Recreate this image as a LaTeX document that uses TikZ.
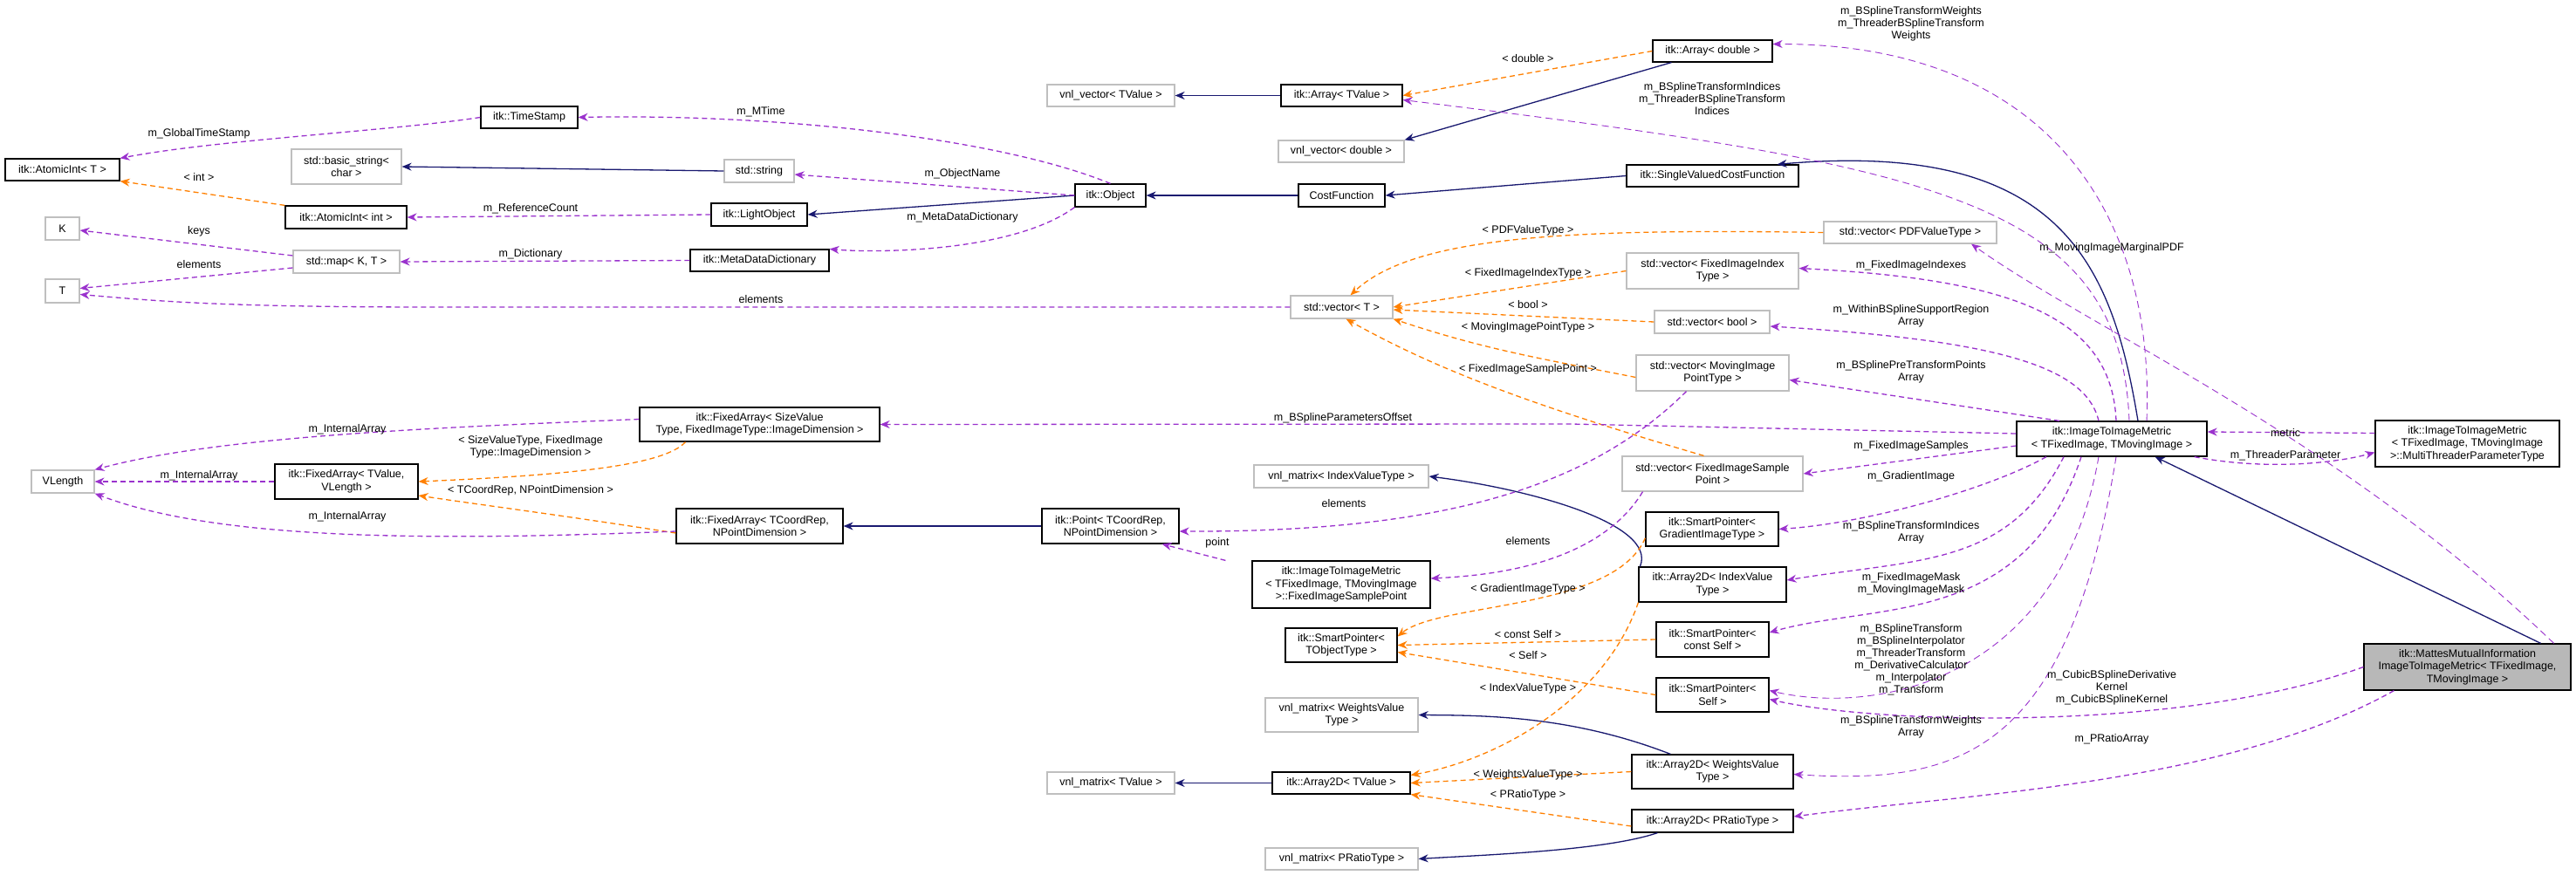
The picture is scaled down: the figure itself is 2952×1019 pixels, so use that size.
\documentclass[tikz,border=0pt]{standalone}
\usepackage{fontspec}
\setmainfont{Liberation Sans}
\usetikzlibrary{arrows.meta}
\begin{document}
\begin{tikzpicture}[x=1pt,y=-1pt,font=\fontsize{12.5}{14.5}\selectfont,
  bx/.style={draw=black,line width=1.2pt,fill=white,inner sep=1pt,align=center},
  gb/.style={draw=black!25,line width=1.2pt,fill=white,inner sep=1pt,align=center},
  pu/.style={draw={rgb,255:red,154;green,50;blue,205},line width=1.3pt,dash pattern=on 6pt off 4pt,-{Stealth[length=11pt,width=9pt]}},
  pt/.style={draw={rgb,255:red,154;green,50;blue,205},line width=0.9pt,dash pattern=on 8pt off 5pt,-{Stealth[length=11pt,width=9pt]}},
  og/.style={draw=orange,line width=1.3pt,dash pattern=on 6pt off 4pt,-{Stealth[length=11pt,width=9pt]}},
  bl/.style={draw={rgb,255:red,25;green,25;blue,112},line width=1.3pt,-{Stealth[length=11pt,width=9pt]}},
  lb/.style={align=center,inner sep=0pt,font=\fontsize{12.5}{14}\selectfont}]
\useasboundingbox[fill=white] (0,0) rectangle (2952,1019);
\def\N#1#2#3#4#5#6#7{\node[#1,minimum width=#5pt,minimum height=#6pt] (#2) at (#3,#4) {#7};}
\N{bx}{AIT}{71.5}{194.5}{131}{25}{itk::AtomicInt< T >}
\N{bx}{TS}{606.5}{134.5}{111}{25}{itk::TimeStamp}
\N{gb}{BS}{397}{191}{126}{40}{std::basic\_string<\\char >}
\N{gb}{SS}{870}{196}{80}{26}{std::string}
\N{bx}{AII}{396.5}{249}{139}{26}{itk::AtomicInt< int >}
\N{bx}{LO}{870}{246}{110}{26}{itk::LightObject}
\N{bx}{OB}{1272.5}{224}{81}{26}{itk::Object}
\N{gb}{K}{71.5}{262}{39}{26}{K}
\N{gb}{SM}{397}{300}{122}{26}{std::map< K, T >}
\N{bx}{MDD}{870.5}{298.5}{159}{25}{itk::MetaDataDictionary}
\N{gb}{T}{71.5}{333.5}{39}{27}{T}
\N{gb}{VVT}{1273}{109.5}{146}{25}{vnl\_vector< TValue >}
\N{bx}{FASV}{870.5}{486.5}{275}{39}{itk::FixedArray< SizeValue\\Type, FixedImageType::ImageDimension >}
\N{bx}{AD}{1962.5}{58.5}{137}{25}{itk::Array< double >}
\N{bx}{AT}{1537.5}{109.5}{139}{25}{itk::Array< TValue >}
\N{gb}{VVD}{1537}{173.5}{144}{25}{vnl\_vector< double >}
\N{bx}{SV}{1962.5}{201.5}{197}{25}{itk::SingleValuedCostFunction}
\N{bx}{CF}{1537.5}{224}{99}{26}{CostFunction}
\N{gb}{VPDF}{2189}{266.5}{198}{25}{std::vector< PDFValueType >}
\N{gb}{VFII}{1962.5}{310.5}{197}{41}{std::vector< FixedImageIndex\\Type >}
\N{gb}{VT}{1537.5}{352}{117}{26}{std::vector< T >}
\N{gb}{VB}{1962}{369}{132}{26}{std::vector< bool >}
\N{gb}{VMIP}{1962.5}{427.5}{175}{41}{std::vector< MovingImage\\PointType >}
\N{bx}{II}{2420}{503}{218}{40}{itk::ImageToImageMetric\\< TFixedImage, TMovingImage >}
\N{bx}{MT}{2827.5}{508.5}{211}{53}{itk::ImageToImageMetric\\< TFixedImage, TMovingImage\\>::MultiThreaderParameterType}
\N{gb}{VL}{72}{552}{72}{26}{VLength}
\N{bx}{FATV}{397}{552}{164}{40}{itk::FixedArray< TValue,\\VLength >}
\N{bx}{FATC}{870.5}{603}{191}{40}{itk::FixedArray< TCoordRep,\\NPointDimension >}
\N{bx}{PT}{1272.5}{603}{157}{40}{itk::Point< TCoordRep,\\NPointDimension >}
\N{gb}{VMT}{1273}{897.5}{146}{25}{vnl\_matrix< TValue >}
\N{gb}{VFISP}{1962.5}{543}{207}{40}{std::vector< FixedImageSample\\Point >}
\N{gb}{VMI}{1537}{546}{200}{26}{vnl\_matrix< IndexValueType >}
\N{bx}{SPG}{1962}{606.5}{152}{39}{itk::SmartPointer<\\GradientImageType >}
\N{bx}{FISP}{1537}{670}{204}{54}{itk::ImageToImageMetric\\< TFixedImage, TMovingImage\\>::FixedImageSamplePoint}
\N{bx}{A2I}{1962.5}{670}{169}{40}{itk::Array2D< IndexValue\\Type >}
\N{bx}{SPT}{1537}{739.5}{128}{39}{itk::SmartPointer<\\TObjectType >}
\N{bx}{SPC}{1962.5}{733}{129}{40}{itk::SmartPointer<\\const Self >}
\N{bx}{SPS}{1962.5}{796.5}{129}{39}{itk::SmartPointer<\\Self >}
\N{gb}{VMW}{1537.5}{819.5}{175}{39}{vnl\_matrix< WeightsValue\\Type >}
\N{bx}{A2W}{1962.5}{884.5}{185}{39}{itk::Array2D< WeightsValue\\Type >}
\N{bx}{A2T}{1537}{897.5}{158}{25}{itk::Array2D< TValue >}
\N{bx}{A2P}{1962.5}{941}{185}{26}{itk::Array2D< PRatioType >}
\N{gb}{VMP}{1537.5}{984.5}{175}{25}{vnl\_matrix< PRatioType >}
\node[draw=black,line width=1.2pt,fill=black!28,inner sep=1pt,align=center,minimum width=237pt,minimum height=53pt] (MA) at (2827.5,764.5) {itk::MattesMutualInformation\\ImageToImageMetric< TFixedImage,\\TMovingImage >};
% ---- blue inheritance
\draw[bl] (SS.west) -- (BS.east);
\draw[bl] (OB.west) -- (LO.east);
\draw[bl] (CF.west) -- (OB.east);
\draw[bl] (SV.west) -- (CF.east);
\draw[bl] (AT.west) -- (VVT.east);
\draw[bl] (AD.south west) ++(22,0) -- (VVD.north east);
\draw[bl] (PT.west) -- (FATC.east);
\draw[bl] (A2T.west) -- (VMT.east);
\draw[bl] (A2I.north west) ++(2,0) .. controls (1900,600) and (1750,560) .. (VMI.east);
\draw[bl] (A2W.north west) ++(45,0) .. controls (1800,820) and (1700,820) .. (VMW.east);
\draw[bl] (A2P.south west) ++(30,0) .. controls (1840,975) and (1700,980) .. (VMP.east);
\draw[bl] ([xshift=-35pt]MA.north east) -- ([xshift=-60pt]II.south east);
\draw[bl] ([xshift=30pt]II.north) .. controls (2420,300) and (2360,160) .. ([xshift=-25pt]SV.north east);
% ---- orange template
\draw[og] (AII.north west) -- (AIT.south east);
\draw[og] (AD.west) -- (AT.east);
\draw[og] (VPDF.west) .. controls (1800,262) and (1620,270) .. ([xshift=10pt]VT.north);
\draw[og] (VFII.west) -- (VT.east);
\draw[og] (VB.west) -- ([yshift=-3pt]VT.east);
\draw[og] ([yshift=-5pt]VMIP.west) .. controls (1760,410) and (1700,400) .. (VT.south east);
\draw[og] ([xshift=-10pt]VFISP.north) .. controls (1740,460) and (1640,420) .. ([xshift=5pt]VT.south);
\draw[og] ([xshift=-85pt]FASV.south) .. controls (760,535) and (640,545) .. (FATV.east);
\draw[og] ([yshift=-8pt]FATC.west) .. controls (640,590) and (560,580) .. ([yshift=-16pt]FATV.east);
\draw[og] (SPG.south west) ++(0,-10) .. controls (1850,700) and (1650,690) .. ([yshift=10pt]SPT.east);
\draw[og] (SPC.west) -- (SPT.east);
\draw[og] (SPS.west) -- ([yshift=-8pt]SPT.east);
\draw[og] (A2I.south west) .. controls (1840,800) and (1720,870) .. ([yshift=9pt]A2T.east);
\draw[og] (A2W.west) -- (A2T.east);
\draw[og] ([yshift=-6pt]A2P.west) -- (A2T.south east);
% ---- purple members
\draw[pu] (TS.west) .. controls (450,150) and (250,160) .. (AIT.north east);
\draw[pu] (OB.north) .. controls (1150,160) and (900,130) .. (TS.east);
\draw[pu] (OB.west) -- ([yshift=-4pt]SS.east);
\draw[pu] (LO.west) -- (AII.east);
\draw[pu] (OB.south west) .. controls (1160,290) and (1000,290) .. (MDD.north east);
\draw[pu] (MDD.west) -- (SM.east);
\draw[pu] ([yshift=7pt]SM.west) -- ([yshift=-2pt]K.east);
\draw[pu] ([yshift=-7pt]SM.west) -- ([yshift=3pt]T.east);
\draw[pu] (VT.west) -- (500,352) .. controls (250,352) and (180,345) .. ([yshift=-4pt]T.east);
\draw[pu] ([yshift=6pt]FASV.west) .. controls (500,490) and (250,500) .. (VL.north east);
\draw[pu] (FATV.west) -- (VL.east);
\draw[pu] ([yshift=-6pt]FATC.west) .. controls (500,620) and (250,620) .. (VL.south east);
\draw[pu] ([yshift=6pt]II.west) -- (1800,486) -- (FASV.east);
\draw[pt] ([xshift=40pt]II.north) .. controls (2470,250) and (2350,50) .. ([yshift=8pt]AD.east);
\draw[pt] ([xshift=20pt]II.north) .. controls (2430,230) and (2220,190) .. ([yshift=-5pt]AT.east);
\draw[pt] ([xshift=-20pt]MA.north east) .. controls (2680,500) and (2400,380) .. ([xshift=70pt]VPDF.south);
\draw[pu] ([xshift=5pt]II.north) .. controls (2420,360) and (2300,320) .. ([yshift=3pt]VFII.east);
\draw[pu] ([xshift=-15pt]II.north) .. controls (2390,420) and (2290,390) .. ([yshift=-5pt]VB.east);
\draw[pu] ([xshift=-60pt]II.north) -- ([yshift=-8pt]VMIP.east);
\draw[pu] ([yshift=-8pt]II.west) -- (VFISP.east);
\draw[pu] ([xshift=-75pt]II.south) .. controls (2280,560) and (2140,600) .. (SPG.east);
\draw[pu] ([xshift=-55pt]II.south) .. controls (2300,650) and (2200,640) .. ([yshift=5pt]A2I.east);
\draw[pu] ([xshift=-35pt]II.south) .. controls (2320,720) and (2150,690) .. ([yshift=8pt]SPC.east);
\draw[pt] ([xshift=-15pt]II.south) .. controls (2360,780) and (2150,820) .. ([yshift=5pt]SPS.east);
\draw[pu] (MA.west) .. controls (2500,840) and (2150,830) .. ([yshift=-5pt]SPS.east);
\draw[pt] ([xshift=5pt]II.south) .. controls (2370,860) and (2250,900) .. ([yshift=-3pt]A2W.east);
\draw[pu] ([xshift=35pt]MA.south west) .. controls (2550,900) and (2250,910) .. ([yshift=5pt]A2P.east);
\draw[pu] ([yshift=12pt]MT.west) -- ([yshift=8pt]II.east);
\draw[pu] ([xshift=-15pt]II.south east) .. controls (2600,540) and (2680,530) .. ([yshift=-10pt]MT.west);
\draw[pu] ([xshift=-30pt]FISP.north west) -- ([xshift=-20pt]PT.south east);
\draw[pu] ([xshift=-30pt]VMIP.south) .. controls (1820,560) and (1650,610) .. ([yshift=-6pt]PT.east);
\draw[pu] ([xshift=-80pt]VFISP.south) .. controls (1830,650) and (1700,660) .. ([yshift=7pt]FISP.east);
% ---- labels
\node[lb] at (228,153) {m\_GlobalTimeStamp};
\node[lb] at (872,128) {m\_MTime};
\node[lb] at (228,203) {< int >};
\node[lb] at (1103,199) {m\_ObjectName};
\node[lb] at (608,239) {m\_ReferenceCount};
\node[lb] at (1103,249) {m\_MetaDataDictionary};
\node[lb] at (228,265) {keys};
\node[lb] at (608,291) {m\_Dictionary};
\node[lb] at (228,303) {elements};
\node[lb] at (872,343) {elements};
\node[lb] at (398,492) {m\_InternalArray};
\node[lb] at (608,512) {< SizeValueType, FixedImage\\Type::ImageDimension >};
\node[lb] at (228,545) {m\_InternalArray};
\node[lb] at (608,562) {< TCoordRep, NPointDimension >};
\node[lb] at (398,592) {m\_InternalArray};
\node[lb] at (2190,27) {m\_BSplineTransformWeights\\m\_ThreaderBSplineTransform\\Weights};
\node[lb] at (1751,67) {< double >};
\node[lb] at (1962,113) {m\_BSplineTransformIndices\\m\_ThreaderBSplineTransform\\Indices};
\node[lb] at (1751,264) {< PDFValueType >};
\node[lb] at (2420,284) {m\_MovingImageMarginalPDF};
\node[lb] at (1751,313) {< FixedImageIndexType >};
\node[lb] at (2190,304) {m\_FixedImageIndexes};
\node[lb] at (1751,349) {< bool >};
\node[lb] at (2190,362) {m\_WithinBSplineSupportRegion\\Array};
\node[lb] at (1751,375) {< MovingImagePointType >};
\node[lb] at (1751,423) {< FixedImageSamplePoint >};
\node[lb] at (2190,426) {m\_BSplinePreTransformPoints\\Array};
\node[lb] at (1539,479) {m\_BSplineParametersOffset};
\node[lb] at (2619,496) {metric};
\node[lb] at (2619,522) {m\_ThreaderParameter};
\node[lb] at (2190,511) {m\_FixedImageSamples};
\node[lb] at (2190,546) {m\_GradientImage};
\node[lb] at (1540,577) {elements};
\node[lb] at (2190,610) {m\_BSplineTransformIndices\\Array};
\node[lb] at (1395,622) {point};
\node[lb] at (1751,620) {elements};
\node[lb] at (2190,669) {m\_FixedImageMask\\m\_MovingImageMask};
\node[lb] at (1751,675) {< GradientImageType >};
\node[lb] at (1751,727) {< const Self >};
\node[lb] at (1751,751) {< Self >};
\node[lb] at (2190,756) {m\_BSplineTransform\\m\_BSplineInterpolator\\m\_ThreaderTransform\\m\_DerivativeCalculator\\m\_Interpolator\\m\_Transform};
\node[lb] at (2420,788) {m\_CubicBSplineDerivative\\Kernel\\m\_CubicBSplineKernel};
\node[lb] at (1751,789) {< IndexValueType >};
\node[lb] at (2190,833) {m\_BSplineTransformWeights\\Array};
\node[lb] at (2420,847) {m\_PRatioArray};
\node[lb] at (1751,888) {< WeightsValueType >};
\node[lb] at (1751,911) {< PRatioType >};
\end{tikzpicture}
\end{document}
